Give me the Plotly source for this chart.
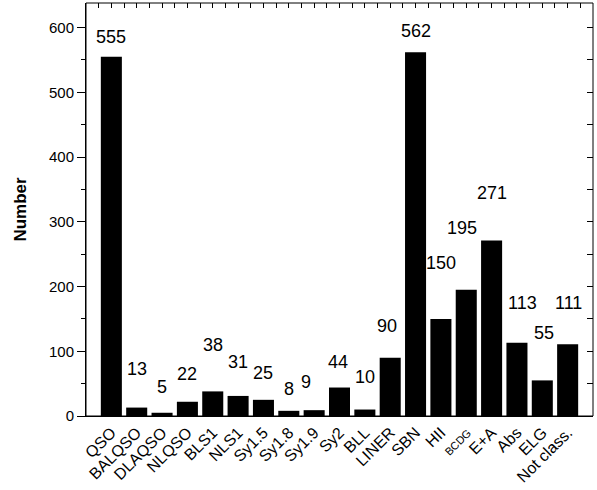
import plotly.graph_objects as go

categories = ["QSO", "BALQSO", "DLAQSO", "NLQSO", "BLS1", "NLS1", "Sy1.5", "Sy1.8",
              "Sy1.9", "Sy2", "BLL", "LINER", "SBN", "HII", "BCDG", "E+A", "Abs",
              "ELG", "Not class."]
counts = [555, 13, 5, 22, 38, 31, 25, 8, 9, 44, 10, 90, 562, 150, 195, 271, 113, 55, 111]

# heights (in data units) at which the value labels sit
label_y = [586, 73, 45, 65, 110, 84, 67, 42, 53, 84, 60, 139, 594, 236, 291, 345, 175, 128, 175]
label_xshift = [0, 0, 0, 0, 0, 0, 0, 0, -8, -2, 0, -3, 0, 0, -4, 0, 6, 2, 1]

tick_text = [("<span style='font-size:11px'>%s</span>" % c) if c == "BCDG" else c for c in categories]
xs = list(range(len(categories)))

FONT = "Liberation Sans, Arial, Helvetica, sans-serif"

fig = go.Figure()
fig.add_trace(go.Bar(x=xs, y=counts, marker=dict(color="black", line=dict(width=0)),
                     hoverinfo="x+y"))
# invisible copy on the mirrored top/right tick axes so they get drawn
fig.add_trace(go.Scatter(x=xs, y=counts, xaxis="x2", yaxis="y2", mode="markers",
                         marker=dict(opacity=0), showlegend=False, hoverinfo="skip"))

for i, (v, ly) in enumerate(zip(counts, label_y)):
    fig.add_annotation(x=xs[i], y=ly, text=str(v), showarrow=False,
                       xshift=label_xshift[i],
                       font=dict(family=FONT, size=18, color="black"))

# plot frame
fig.add_shape(type="rect", xref="paper", yref="paper", x0=0, x1=1, y0=0, y1=1,
              line=dict(color="black", width=1), fillcolor="rgba(0,0,0,0)", layer="above")

fig.update_layout(
    width=597, height=490,
    margin=dict(l=86, r=4, t=3, b=74),
    paper_bgcolor="white", plot_bgcolor="white",
    bargap=0.17,
    showlegend=False,
    font=dict(family=FONT, color="black"),
    xaxis=dict(range=[-1, 19], tickmode="array", tickvals=xs, ticktext=tick_text,
               tickangle=-45, ticks="", showgrid=False, zeroline=False, automargin=False,
               showline=True, linecolor="black", linewidth=1,
               tickfont=dict(family=FONT, size=16, color="black")),
    yaxis=dict(range=[0, 638], tickmode="linear", tick0=0, dtick=100, automargin=False,
               ticks="outside", ticklen=8, tickwidth=1, tickcolor="black",
               minor=dict(tickmode="linear", tick0=0, dtick=50, ticks="outside",
                          ticklen=4, tickcolor="black", showgrid=False),
               showgrid=False, zeroline=False,
               showline=True, linecolor="black", linewidth=1,
               tickfont=dict(family=FONT, size=15, color="black"),
               title=dict(text="<b>Number</b>", font=dict(family=FONT, size=17, color="black"),
                          standoff=18)),
    xaxis2=dict(overlaying="x", side="top", anchor="y2", range=[-1, 19], automargin=False,
                tickmode="array", tickvals=[v / 2 - 0.5 for v in range(2 * len(xs) + 2)],
                ticks="inside", ticklen=5,
                tickcolor="black", showticklabels=False, showgrid=False, zeroline=False,
                showline=False),
    yaxis2=dict(overlaying="y", side="right", anchor="x2", range=[0, 638], automargin=False,
                tickmode="linear", tick0=0, dtick=50, ticks="inside", ticklen=6,
                tickcolor="black", showticklabels=False, showgrid=False, zeroline=False,
                showline=False),
)

fig.write_html("out.html", config={"displayModeBar": False},
               post_script="document.body.style.margin='0px';document.body.style.padding='0px';"
                           "document.body.style.overflow='hidden';")
